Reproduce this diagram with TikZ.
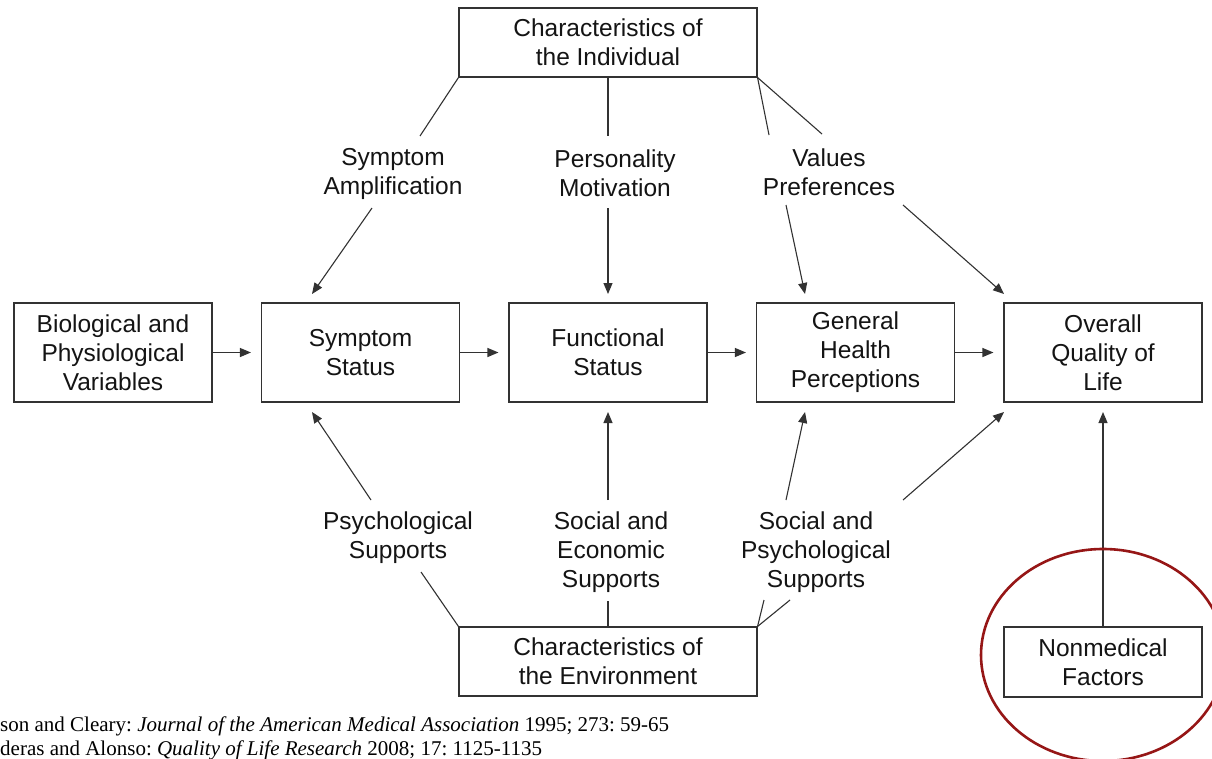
\documentclass[tikz,border=0pt]{standalone}
\usepackage{fontspec}
\setmainfont{Liberation Sans}
\newfontfamily\timesf{Liberation Serif}
\usetikzlibrary{arrows.meta}
\definecolor{circ}{RGB}{150,22,22}
\definecolor{ln}{RGB}{50,50,50}
\definecolor{txt}{RGB}{20,20,20}
\frenchspacing
\begin{document}
\begin{tikzpicture}[x=1pt,y=-1pt,
  every node/.style={font=\fontsize{24.5}{29}\selectfont, align=center, inner sep=0pt, text=txt},
  box/.style={draw=ln, line width=1.1pt},
  wbox/.style={box, minimum width=298pt, minimum height=69pt},
  rbox/.style={box, minimum width=198pt, minimum height=99pt},
  conn/.style={draw=ln, line width=1.1pt},
  arr/.style={conn, -{Triangle[length=11pt,width=9pt]}},
  lbl/.style={}]
\path[use as bounding box] (0,0) rectangle (1212,758);
\fill[white] (0,0) rectangle (1212,758);
% boxes
\node[wbox] (ind) at (608,42.5) {Characteristics of\\the Individual};
\node[rbox] (bio) at (113,352.5) {Biological and\\Physiological\\Variables};
\node[rbox] (sym) at (360.5,352.5) {Symptom\\Status};
\node[rbox] (fun) at (608,352.5) {Functional\\Status};
\node[rbox] (gen) at (855.5,352.5) {General\\Health\\Perceptions};
\node[rbox] (ovr) at (1103,352.5) {Overall\\Quality of\\Life};
\node[wbox] (env) at (608,661.5) {Characteristics of\\the Environment};
\node[box, minimum width=198pt, minimum height=70pt] (non) at (1103,662) {Nonmedical\\Factors};
% labels
\node[lbl] (amp) at (393,174) {Symptom\\Amplification};
\node[lbl] (per) at (615,173.5) {Personality\\Motivation};
\node[lbl] (val) at (829,172) {Values\\Preferences};
\node[lbl] (psy) at (398,537.5) {Psychological\\Supports};
\node[lbl] (soe) at (611,552) {Social and\\Economic\\Supports};
\node[lbl] (sop) at (816,552) {Social and\\Psychological\\Supports};
% free ends
\coordinate (a1) at (420,136);
\coordinate (a2) at (372,208);
\coordinate (a3) at (312,294);
\coordinate (p1) at (608,136);
\coordinate (p2) at (608,208);
\coordinate (p3) at (608,294);
\coordinate (v1) at (769,135);
\coordinate (v2) at (822,134);
\coordinate (v3) at (786,205);
\coordinate (v4) at (805,294);
\coordinate (v5) at (903,205);
\coordinate (v6) at (1004,294);
\coordinate (s1) at (421,572);
\coordinate (s2) at (371,500);
\coordinate (s3) at (312,412);
\coordinate (e1) at (608,601);
\coordinate (e2) at (608,500);
\coordinate (e3) at (608,412);
\coordinate (q1) at (764,600);
\coordinate (q2) at (790,600);
\coordinate (q3) at (786,500);
\coordinate (q4) at (805,412);
\coordinate (q5) at (903,500);
\coordinate (q6) at (1004,412);
\coordinate (n1) at (1103,412);
% top connectors
\draw[conn] (ind.south west) -- (a1);
\draw[arr] (a2) -- (a3);
\draw[conn] (ind.south) -- (p1);
\draw[arr] (p2) -- (p3);
\draw[conn] (ind.south east) -- (v1);
\draw[conn] (ind.south east) -- (v2);
\draw[arr] (v3) -- (v4);
\draw[arr] (v5) -- (v6);
% bottom connectors
\draw[conn] (env.north west) -- (s1);
\draw[arr] (s2) -- (s3);
\draw[conn] (env.north) -- (e1);
\draw[arr] (e2) -- (e3);
\draw[conn] (env.north east) -- (q1);
\draw[conn] (env.north east) -- (q2);
\draw[arr] (q3) -- (q4);
\draw[arr] (q5) -- (q6);
\draw[arr] (non.north) -- (n1);
% horizontal arrows
\draw[arr, shorten >=10pt] (bio.east) -- (sym.west);
\draw[arr, shorten >=10pt] (sym.east) -- (fun.west);
\draw[arr, shorten >=10pt] (fun.east) -- (gen.west);
\draw[arr, shorten >=10pt] (gen.east) -- (ovr.west);
% clipped items
\begin{scope}
\clip (0,0) rectangle (1212,758);
\draw[circ, line width=2.6pt] (1103,655) ellipse [x radius=122, y radius=106];
\node[anchor=base west, font=\timesf\fontsize{21}{24}\selectfont, text=black] (ref1) at (0,731) {son and Cleary: \textit{Journal of the American Medical Association} 1995; 273: 59-65};
\node[anchor=base west, font=\timesf\fontsize{21}{24}\selectfont, text=black] (ref2) at (0,755) {deras and Alonso: \textit{Quality of Life Research} 2008; 17: 1125-1135};
\end{scope}
\end{tikzpicture}
\end{document}
